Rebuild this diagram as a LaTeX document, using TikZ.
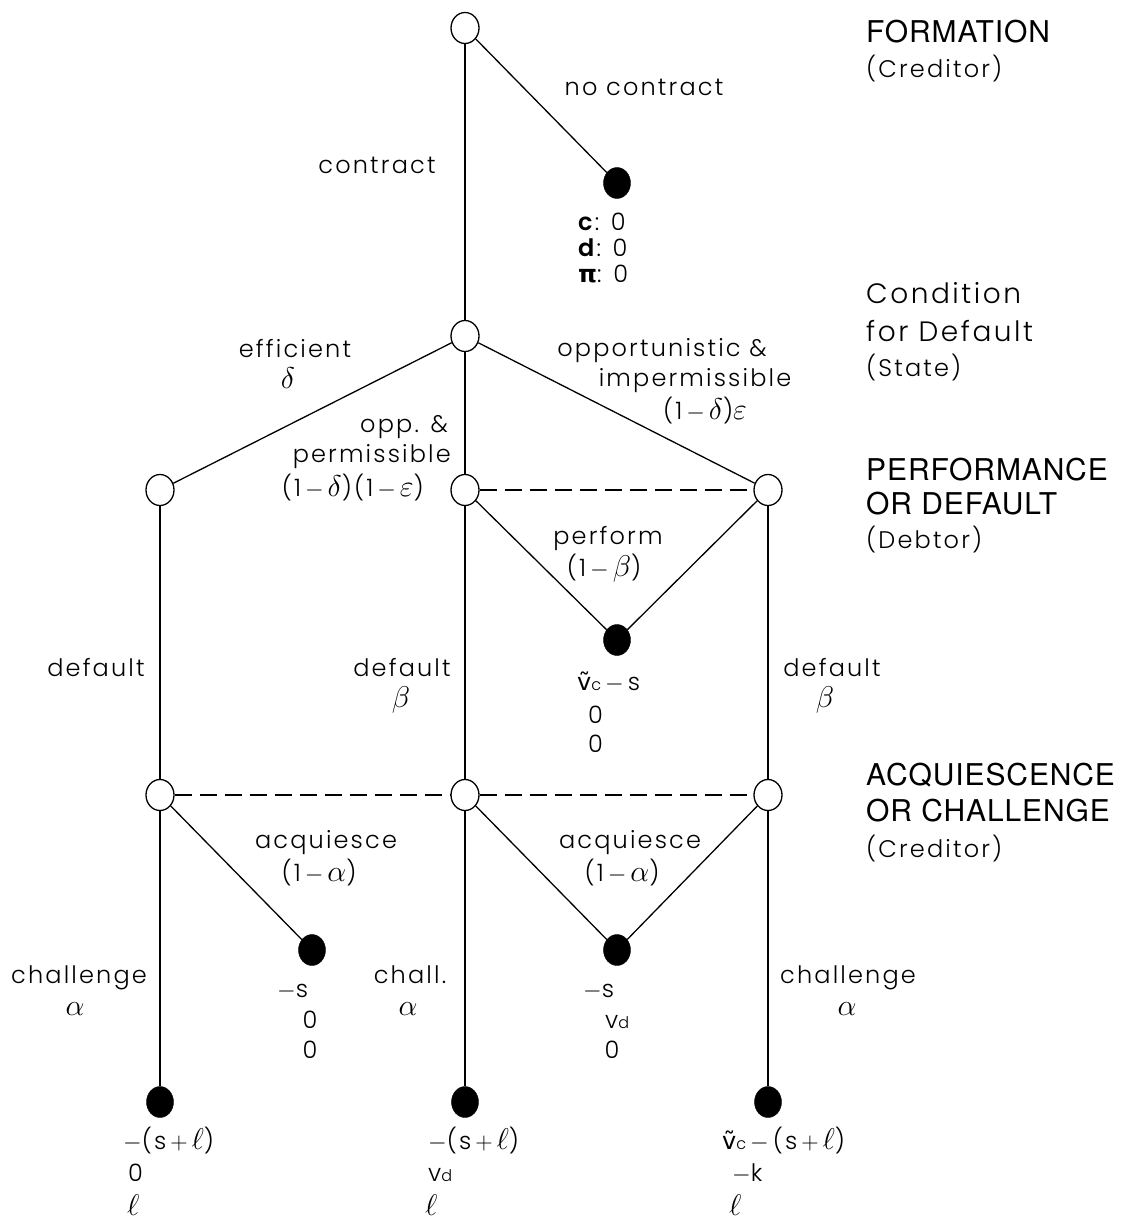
\RequirePackage{fix-cm}
\documentclass[tikz,border=0pt]{standalone}
\usepackage{fontspec}
\IfFontExistsTF{Poppins Light}{\setmainfont{Poppins Light}[LetterSpace=9]}{\setmainfont{Poppins}[LetterSpace=9]}
\newfontfamily\headfont{TeX Gyre Heros}[LetterSpace=3]
\newfontfamily\pifont{DejaVu Sans}
\usetikzlibrary{shapes.geometric}
\newcommand{\vtil}{{\pifont ṽ}{\fontsize{16}{16}\selectfont c}}
\newcommand{\vdd}{v{\fontsize{16}{16}\selectfont d}}
\newcommand{\gk}[1]{{\fontsize{30}{31}\selectfont$#1$}}
\newcommand{\mn}{$\,-\,$}
\tikzset{
  open/.style={ellipse, draw, line width=1.3pt, fill=white, minimum width=28pt, minimum height=31pt, inner sep=0pt},
  term/.style={ellipse, draw, fill=black, minimum width=27pt, minimum height=31pt, inner sep=0pt},
  stem/.style={line width=2.6pt},
  twig/.style={line width=1.3pt},
  infoset/.style={line width=2.6pt, dash pattern=on 17pt off 8pt},
  lab/.style={font=\fontsize{24}{31}\selectfont, inner sep=0pt},
  hd/.style={font=\headfont\fontsize{30}{36}\selectfont, inner sep=0pt, anchor=base west},
  hdsub/.style={font=\fontsize{24}{31}\selectfont, inner sep=0pt, anchor=base west},
  hdmid/.style={font=\fontsize{28}{31}\selectfont, inner sep=0pt, anchor=base west},
}
\begin{document}
\begin{tikzpicture}[x=1pt, y=-1pt]
\useasboundingbox[fill=white] (0,0) rectangle (1131,1222);
% decision nodes
\node[open] (root) at (465,28) {};
\node[term] (nc) at (617,183) {};
\node[open] (cond) at (465,336) {};
\node[open] (L) at (160,490) {};
\node[open] (M) at (465,490) {};
\node[open] (R) at (768,490) {};
\node[term] (perf) at (617,640) {};
\node[open] (aL) at (160,795) {};
\node[open] (aM) at (465,795) {};
\node[open] (aR) at (768,795) {};
\node[term] (qL) at (312,950) {};
\node[term] (qM) at (617,950) {};
\node[term] (cL) at (160,1102) {};
\node[term] (cM) at (465,1102) {};
\node[term] (cR) at (768,1102) {};
% connectors
\draw[stem] (root) -- (cond);
\draw[twig] (root) -- (nc);
\draw[twig] (cond) -- (L);
\draw[stem] (cond) -- (M);
\draw[twig] (cond) -- (R);
\draw[twig] (M) -- (perf);
\draw[twig] (R) -- (perf);
\draw[infoset] (M) -- (R);
\draw[stem] (L) -- (aL);
\draw[stem] (M) -- (aM);
\draw[stem] (R) -- (aR);
\draw[infoset] (aL) -- (aM);
\draw[infoset] (aM) -- (aR);
\draw[twig] (aL) -- (qL);
\draw[twig] (aM) -- (qM);
\draw[twig] (aR) -- (qM);
\draw[stem] (aL) -- (cL);
\draw[stem] (aM) -- (cM);
\draw[stem] (aR) -- (cR);
% stage headings
\node[hd] (h1) at (866,43) {FORMATION};
\node[hdsub] (h1b) at (866,78) {(Creditor)};
\node[hdmid] (h2) at (866,303) {Condition};
\node[hdmid] (h2b) at (866,341) {for Default};
\node[hdsub] (h2c) at (866,376) {(State)};
\node[hd] (h3) at (866,480) {PERFORMANCE};
\node[hd] (h3b) at (866,514) {OR DEFAULT};
\node[hdsub] (h3c) at (866,548) {(Debtor)};
\node[hd] (h4) at (866,785) {ACQUIESCENCE};
\node[hd] (h4b) at (866,821) {OR CHALLENGE};
\node[hdsub] (h4c) at (866,857) {(Creditor)};
% branch labels
\node[lab, anchor=base] (t1) at (377,174) {contract};
\node[lab, anchor=base] (t2) at (644,96) {no contract};
\node[lab, anchor=base west] (p1) at (578,231) {\textbf{c}: 0};
\node[lab, anchor=base west] (p2) at (578,257) {\textbf{d}: 0};
\node[lab, anchor=base west] (p3) at (578,283) {{\pifont\bfseries π}: 0};
\node[lab, anchor=base] (e1) at (295,357) {efficient};
\node[lab, anchor=base] (e2) at (288,388) {\gk{\delta}};
\node[lab, anchor=base] (o1) at (662,356) {opportunistic \&};
\node[lab, anchor=base] (o2) at (695,386) {impermissible};
\node[lab, anchor=base] (o3) at (705,419) {(1\mn\gk{\delta})\gk{\varepsilon}};
\node[lab, anchor=base east] (q1) at (448,432) {opp. \&};
\node[lab, anchor=base east] (q2) at (451,462) {permissible};
\node[lab, anchor=base east] (q3) at (424,496) {(1\mn\gk{\delta})(1\mn\gk{\varepsilon})};
\node[lab, anchor=base] (f1) at (608,544) {perform};
\node[lab, anchor=base] (f2) at (604,576) {(1\mn\gk{\beta})};
\node[lab, anchor=base west] (f3) at (577,690) {\vtil\mn s};
\node[lab, anchor=base west] (f4) at (588,723) {0};
\node[lab, anchor=base west] (f5) at (588,752) {0};
\node[lab, anchor=base] (d1) at (96,676) {default};
\node[lab, anchor=base] (d2) at (402,676) {default};
\node[lab, anchor=base] (d3) at (401,707) {\gk{\beta}};
\node[lab, anchor=base] (d4) at (832,676) {default};
\node[lab, anchor=base] (d5) at (825,707) {\gk{\beta}};
\node[lab, anchor=base] (a1) at (326,848) {acquiesce};
\node[lab, anchor=base] (a2) at (319,881) {(1\mn\gk{\alpha})};
\node[lab, anchor=base] (a3) at (630,848) {acquiesce};
\node[lab, anchor=base] (a4) at (622,881) {(1\mn\gk{\alpha})};
\node[lab, anchor=base] (c1) at (79,983) {challenge};
\node[lab, anchor=base] (c2) at (75,1015) {\gk{\alpha}};
\node[lab, anchor=base] (c3) at (410,983) {chall.};
\node[lab, anchor=base] (c4) at (408,1015) {\gk{\alpha}};
\node[lab, anchor=base] (c5) at (848,983) {challenge};
\node[lab, anchor=base] (c6) at (847,1015) {\gk{\alpha}};
% payoffs
\node[lab, anchor=base west] (s1) at (277,997) {$-$s};
\node[lab, anchor=base] (s2) at (310,1028) {0};
\node[lab, anchor=base] (s3) at (310,1058) {0};
\node[lab, anchor=base west] (s4) at (583,997) {$-$s};
\node[lab, anchor=base west] (s5) at (605,1028) {\vdd};
\node[lab, anchor=base] (s6) at (612,1058) {0};
\node[lab, anchor=base west] (b1) at (123,1149) {$-$(s$\,+\,$\gk{\ell})};
\node[lab, anchor=base west] (b2) at (128,1181) {0};
\node[lab, anchor=base west] (b3) at (127,1215) {\gk{\ell}};
\node[lab, anchor=base west] (b4) at (428,1149) {$-$(s$\,+\,$\gk{\ell})};
\node[lab, anchor=base west] (b5) at (428,1181) {\vdd};
\node[lab, anchor=base west] (b6) at (425,1215) {\gk{\ell}};
\node[lab, anchor=base west] (b7) at (722,1149) {\vtil\mn(s$\,+\,$\gk{\ell})};
\node[lab, anchor=base west] (b8) at (732,1181) {$-$k};
\node[lab, anchor=base west] (b9) at (729,1215) {\gk{\ell}};
\end{tikzpicture}
\end{document}
